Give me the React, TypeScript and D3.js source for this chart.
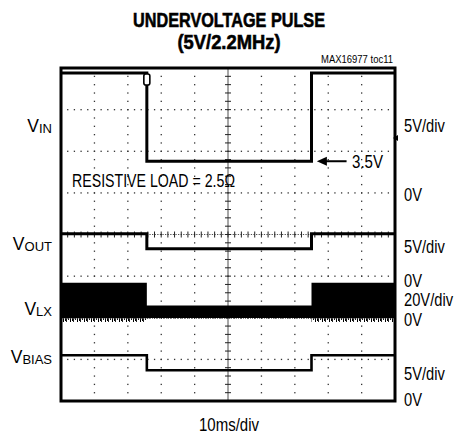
import React from "react";
import * as d3 from "d3";

// ---------- data ----------
const TITLE_LINES = ["UNDERVOLTAGE PULSE", "(5V/2.2MHz)"];
const NOTE = "MAX16977 toc11";
const X_LABEL = "10ms/div";
const LOAD_NOTE = "RESISTIVE LOAD = 2.5Ω";
const LEVEL_NOTE = "3.5V";

const TIME_MS = [0, 25.7, 25.7, 75.0, 75.0, 100];
const VIN_V = [14.4, 14.4, 3.8, 3.8, 14.4, 14.4];
const VOUT_V = [5.1, 5.1, 3.3, 3.3, 5.1, 5.1];
const VLX_TOP_V = [16.8, 16.8, 5.9, 5.9, 16.8, 16.8];
const VLX_CORE_BOT_V = [-0.2, -0.2, -0.1, -0.1, -0.2, -0.2];
const VLX_NOISE_BOT_V = [-2.0, -2.0, -0.4, -0.4, -2.0, -2.0];
const VBIAS_V = [5.5, 5.5, 3.7, 3.7, 5.5, 5.5];

const CH_NAMES = ["V", "V", "V", "V"];
const CH_SUBS = ["IN", "OUT", "LX", "BIAS"];
const CH_SCALES = ["5V/div", "5V/div", "20V/div", "5V/div"];
const CH_VOLTS_PER_DIV = [5, 5, 20, 5];
const CH_ZERO_DIV = [5, 3, 2, 0];
const TRIGGER_LEVEL_V = 6.6; // on VIN
const TRIGGER_TIME_MS = 25.7;

// ---------- layout ----------
const W = 459;
const H = 434;
const L = 61, R = 395, T = 68, B = 401;
const X_DIVS = 10, Y_DIVS = 8;
const NAME_Y = [125, 243, 308, 356];
const SCALE_Y = [125, 246, 299, 373];
const ZERO_NUDGE = [2, 4, 2, -2];
const FONT = "'Liberation Sans Narrow', 'Arial Narrow', 'Liberation Sans', Arial, sans-serif";
const FS = 17.5;
const SQUEEZE = 0.84;

const x = d3.scaleLinear().domain([0, 100]).range([L, R]);
const yDiv = d3.scaleLinear().domain([0, Y_DIVS]).range([B, T]);
const yCh = (ch: number) => (v: number) => yDiv(CH_ZERO_DIV[ch] + v / CH_VOLTS_PER_DIV[ch]);

function tracePath(ch: number, vals: number[]) {
  const y = yCh(ch);
  return d3.line<number>().x((_, i) => x(TIME_MS[i])).y((v) => y(v))(vals) || "";
}

export default function App() {
  const dxMinor = (R - L) / (X_DIVS * 5);
  const dyMinor = (B - T) / (Y_DIVS * 5);
  const cx = x(50);
  const cy = yDiv(Y_DIVS / 2);

  const dots: JSX.Element[] = [];
  for (let k = 1; k < Y_DIVS; k++) {
    if (k === Y_DIVS / 2) continue;
    const yy = yDiv(k);
    for (let i = 1; i < X_DIVS * 5; i++) {
      dots.push(<rect key={`h${k}-${i}`} x={L + i * dxMinor - 0.6} y={yy - 0.6} width={1.3} height={1.3} fill="#333" />);
    }
  }
  for (let j = 1; j < X_DIVS; j++) {
    if (j === X_DIVS / 2) continue;
    const xx = x(j * 10);
    for (let i = 1; i < Y_DIVS * 5; i++) {
      dots.push(<rect key={`v${j}-${i}`} x={xx - 0.6} y={T + i * dyMinor - 0.6} width={1.3} height={1.3} fill="#333" />);
    }
  }
  const ticks: JSX.Element[] = [];
  for (let i = 1; i < Y_DIVS * 5; i++) {
    const yy = T + i * dyMinor;
    ticks.push(<line key={`ty${i}`} x1={cx - 3} x2={cx + 3} y1={yy} y2={yy} stroke="#222" strokeWidth={1} />);
  }
  for (let i = 1; i < X_DIVS * 5; i++) {
    const xx = L + i * dxMinor;
    ticks.push(<line key={`tx${i}`} x1={xx} x2={xx} y1={cy - 3} y2={cy + 3} stroke="#222" strokeWidth={1} />);
  }

  const yLx = yCh(2);
  const lxCore = d3
    .area<number>()
    .x((_, i) => x(TIME_MS[i]))
    .y0((_, i) => yLx(VLX_CORE_BOT_V[i]))
    .y1((v) => yLx(v))(VLX_TOP_V) || "";
  const lxNoise = d3
    .area<number>()
    .x((_, i) => x(TIME_MS[i]))
    .y0((_, i) => yLx(VLX_NOISE_BOT_V[i]))
    .y1((v) => yLx(v))(VLX_CORE_BOT_V) || "";

  const yIn = yCh(0);
  const lowY = yIn(VIN_V[2]);
  const trigX = x(TRIGGER_TIME_MS);
  const trigY = yIn(TRIGGER_LEVEL_V);

  return (
    <svg width={W} height={H} style={{ position: "absolute", left: 0, top: 0, background: "#fff" }} fontFamily={FONT}>
      <defs>
        <pattern id="fuzz" patternUnits="userSpaceOnUse" width={7} height={6}>
          <rect x={0} y={0} width={1} height={6} fill="#000" />
          <rect x={2} y={0} width={1} height={3} fill="#000" />
          <rect x={3} y={0} width={1} height={5} fill="#222" />
          <rect x={5} y={0} width={1} height={2} fill="#111" />
        </pattern>
      </defs>
      <rect x={0} y={0} width={W} height={H} fill="#fff" />
      {/* title */}
      <text x={229} y={27} textAnchor="middle" fontSize={21} fontWeight="bold" stroke="#000" strokeWidth={0.6} textLength={192} lengthAdjust="spacingAndGlyphs">{TITLE_LINES[0]}</text>
      <text x={229} y={49} textAnchor="middle" fontSize={21} fontWeight="bold" stroke="#000" strokeWidth={0.6} textLength={103} lengthAdjust="spacingAndGlyphs">{TITLE_LINES[1]}</text>
      <text x={393} y={63} textAnchor="end" fontSize={10} textLength={72} lengthAdjust="spacingAndGlyphs">{NOTE}</text>

      {/* grid */}
      {dots}
      <line x1={cx} x2={cx} y1={T} y2={B} stroke="#222" strokeWidth={0.8} />
      <line x1={L} x2={R} y1={cy} y2={cy} stroke="#222" strokeWidth={0.8} strokeDasharray="1.3 1.3" />
      {ticks}

      {/* traces */}
      <path d={lxCore} fill="#000" />
      <path d={lxNoise} fill="url(#fuzz)" />
      <path d={tracePath(0, VIN_V)} fill="none" stroke="#000" strokeWidth={3} />
      <path d={tracePath(1, VOUT_V)} fill="none" stroke="#000" strokeWidth={3} />
      <path d={tracePath(3, VBIAS_V)} fill="none" stroke="#000" strokeWidth={2.6} />

      {/* trigger marker */}
      <rect x={trigX - 3} y={yIn(VIN_V[0]) + 1} width={6} height={11} rx={2} fill="#fff" stroke="#000" strokeWidth={1.6} />
      <path d={`M${R - 2},${trigY} l5,-3 v6 z`} fill="#000" />

      {/* frame */}
      <rect x={L} y={T} width={R - L} height={B - T} fill="none" stroke="#000" strokeWidth={3} />

      {/* annotations */}
      <path d={`M${x(76.6)},${lowY} l10,-4.5 v9 z`} fill="#000" />
      <line x1={x(76.6) + 8} x2={x(85.5)} y1={lowY} y2={lowY} stroke="#000" strokeWidth={2} />
      <text x={352} y={lowY + 6.5} fontSize={FS} textLength={31} lengthAdjust="spacingAndGlyphs">{LEVEL_NOTE}</text>
      <text x={72} y={187} fontSize={FS} textLength={163} lengthAdjust="spacingAndGlyphs">{LOAD_NOTE}</text>

      {/* channel names */}
      {CH_NAMES.map((n, i) => (
        <text key={`n${i}`} x={52} y={NAME_Y[i] + 6.5} textAnchor="end" fontSize={FS}>
          {n}
          <tspan fontSize={13} dy={1.5}>{CH_SUBS[i]}</tspan>
        </text>
      ))}
      {/* channel scales and zero markers */}
      {CH_SCALES.map((s, i) => (
        <text key={`s${i}`} transform={`translate(404,${SCALE_Y[i] + 6.5}) scale(${SQUEEZE},1)`} fontSize={FS}>{s}</text>
      ))}
      {CH_ZERO_DIV.map((z, i) => (
        <text key={`z${i}`} transform={`translate(404,${yDiv(z) + 6.5 + ZERO_NUDGE[i]}) scale(${SQUEEZE},1)`} fontSize={FS}>0V</text>
      ))}

      <text x={229} y={431} textAnchor="middle" fontSize={FS} textLength={60} lengthAdjust="spacingAndGlyphs">{X_LABEL}</text>
    </svg>
  );
}
